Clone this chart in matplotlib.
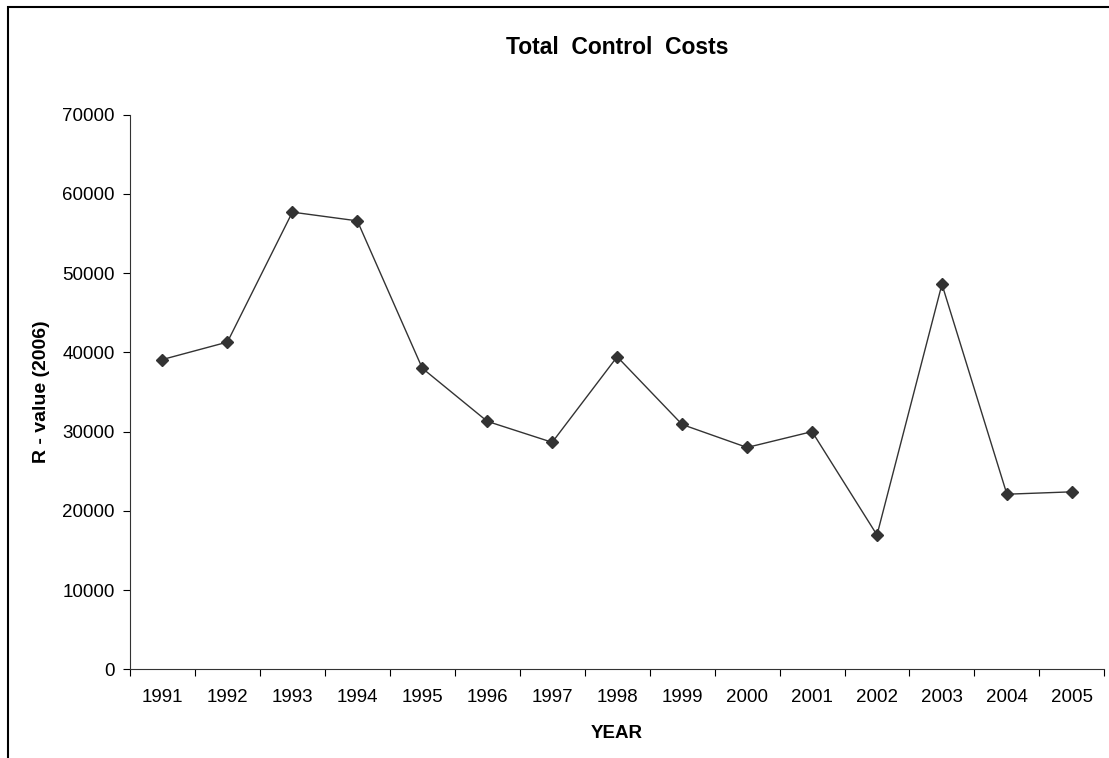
import matplotlib
matplotlib.use("Agg")
import matplotlib.pyplot as plt
from matplotlib.patches import Rectangle
import numpy as np

years = ["1991", "1992", "1993", "1994", "1995", "1996", "1997", "1998",
         "1999", "2000", "2001", "2002", "2003", "2004", "2005"]
costs = [39100, 41300, 57700, 56600, 38000, 31300, 28650, 39450,
         30900, 28000, 30000, 16950, 48600, 22100, 22400]

plt.rcParams['font.family'] = ['Liberation Sans', 'DejaVu Sans']

fig = plt.figure(figsize=(11.09, 7.58), dpi=100)
ax = fig.add_axes([0.1172, 0.117, 0.8786, 0.7317])

# outer frame like the spreadsheet chart area
fig.patches.append(Rectangle((8 / 1109, -0.05), 1.1, 1 - 7 / 758 + 0.05,
                             transform=fig.transFigure, fill=False,
                             edgecolor='black', linewidth=1.5))

x = np.arange(len(years)) + 0.5
ax.plot(x, costs, color='#333333', linewidth=1.0, marker='D',
        markersize=6, markerfacecolor='#333333', markeredgecolor='#333333')

ax.set_xlim(0, len(years))
ax.set_ylim(0, 70000)
ax.set_yticks(np.arange(0, 70001, 10000))
ax.set_xticks(np.arange(0, len(years) + 1))
ax.set_xticklabels([])
ax.set_xticks(x, minor=True)
ax.set_xticklabels(years, minor=True)
ax.tick_params(axis='x', which='minor', length=0, pad=14, labelsize=13.5)
ax.tick_params(axis='x', which='major', length=5, direction='out')
ax.tick_params(axis='y', length=5, direction='out', labelsize=13.5, pad=6)

for s in ['top', 'right']:
    ax.spines[s].set_visible(False)
for s in ['left', 'bottom']:
    ax.spines[s].set_color('#333333')

ax.set_xlabel('YEAR', fontweight='bold', fontsize=13.5, labelpad=14)
ax.set_ylabel('R - value (2006)', fontweight='bold', fontsize=14, labelpad=9)
fig.text(0.5565, 1 - 48 / 758, 'Total  Control  Costs', ha='center', va='center',
         fontweight='bold', fontsize=16.5)

fig.savefig('out.png', dpi=100)
